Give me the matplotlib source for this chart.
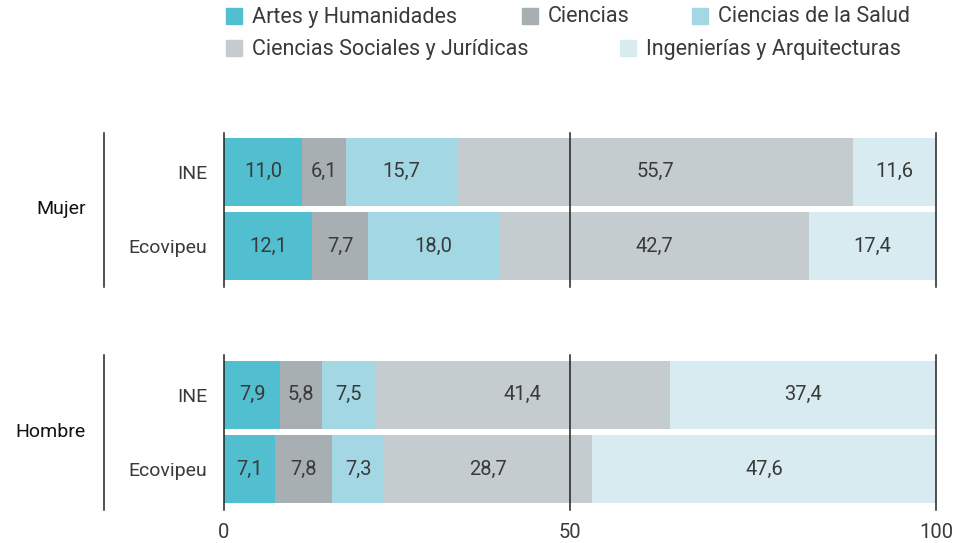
import matplotlib.pyplot as plt
from matplotlib.patches import Rectangle

plt.rcParams['font.family'] = ['Roboto', 'DejaVu Sans']

areas = ['Artes y Humanidades', 'Ciencias', 'Ciencias de la Salud',
         'Ciencias Sociales y Jurídicas', 'Ingenierías y Arquitecturas']
colors = ['#52bfd0', '#a8afb2', '#a2d7e3', '#c5cccf', '#d7ebf1']

groups = ['Mujer', 'Hombre']
sources = ['INE', 'Ecovipeu']

# porcentajes por rama de conocimiento
mujer_ine = [11.0, 6.1, 15.7, 55.7, 11.6]
mujer_eco = [12.1, 7.7, 18.0, 42.7, 17.4]
hombre_ine = [7.9, 5.8, 7.5, 41.4, 37.4]
hombre_eco = [7.1, 7.8, 7.3, 28.7, 47.6]

rows = [mujer_ine, mujer_eco, hombre_ine, hombre_eco]
ypos = [0, 1, 3, 4]
row_labels = sources + sources

xticks = [0, 48.6, 100]
xticklabels = ['0', '50', '100']

text_color = '#3a3a3a'
line_color = '#222222'

fig = plt.figure(figsize=(9.58, 5.43), dpi=100)
W, H = 958, 543
ax = fig.add_axes([224 / W, 1 - 510 / H, 712 / W, (510 - 133) / H])

for y, vals in zip(ypos, rows):
    total = sum(vals)
    left = 0
    for v, c in zip(vals, colors):
        w = v / total * 100
        ax.barh(y, w, left=left, height=0.91, color=c, edgecolor='none')
        ax.text(left + w / 2, y, f'{v:.1f}'.replace('.', ','), ha='center', va='center',
                fontsize=14.5, color=text_color)
        left += w

# lineas verticales por grupo
spans = [(-0.52, 1.55), (2.47, 4.55)]
for y0, y1 in spans:
    for x in xticks:
        ax.plot([x, x], [y0, y1], color=line_color, lw=1.1, zorder=5, clip_on=False)
    ax.plot([-16.85, -16.85], [y0, y1], color=line_color, lw=1.1, clip_on=False)

for g, y in zip(groups, [0.5, 3.5]):
    ax.text(-19.4, y, g, ha='right', va='center', fontsize=14, color='#111111')

ax.set_xlim(0, 100)
ax.set_ylim(4.55, -0.52)
ax.set_yticks(ypos)
ax.set_yticklabels(row_labels, fontsize=14, color=text_color)
ax.set_xticks(xticks)
ax.set_xticklabels(xticklabels, fontsize=14.5, color=text_color)
ax.tick_params(length=0)
ax.tick_params(axis='y', pad=12)
ax.tick_params(axis='x', pad=9)
for s in ax.spines.values():
    s.set_visible(False)

# leyenda manual
legend_pos = [(226, 16), (522, 16), (692, 16), (226, 48), (620, 48)]
for (px, py), name, c in zip(legend_pos, areas, colors):
    fig.patches.append(Rectangle((px / W, 1 - (py + 8) / H), 16 / W, 16 / H,
                                 transform=fig.transFigure, color=c))
    fig.text((px + 26) / W, 1 - (py + 1) / H, name, ha='left', va='center',
             fontsize=15.5, color=text_color)

fig.savefig('out.png', dpi=100)
